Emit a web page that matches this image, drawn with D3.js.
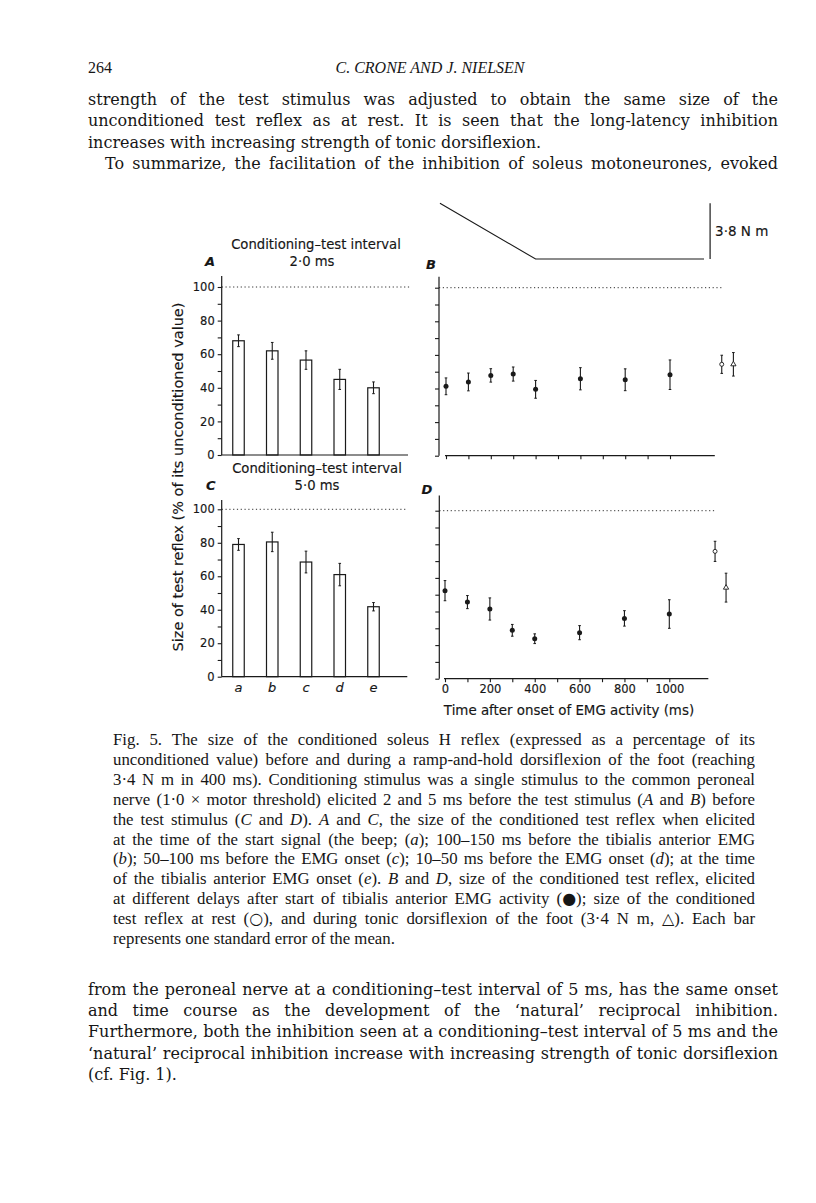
<!DOCTYPE html>
<html>
<head>
<meta charset="utf-8">
<script src="https://cdn.jsdelivr.net/npm/d3@7"></script>
<style>
  body { margin: 0; background: #fff; }
  svg { display: block; }
  .serif { font-family: "DejaVu Serif", serif; fill: #161616; }
  .times { font-family: "Liberation Serif", "Times New Roman", serif; fill: #161616; }
  .sans { font-family: "DejaVu Sans", sans-serif; fill: #161616; stroke: #161616; stroke-width: 0.15px; }
</style>
</head>
<body>
<svg id="page" width="816" height="1203"></svg>
<script>
// ---- data ----
var conditions = ['a', 'b', 'c', 'd', 'e'];
var barsA = [68, 62, 56.5, 45, 40];
var barsAerr = [3.5, 5, 5.5, 6, 3.5];
var barsC = [79, 80.5, 68.5, 61, 41.8];
var barsCerr = [3.5, 5.8, 6.5, 6.7, 2.5];

var delays = [0, 100, 200, 300, 400, 600, 800, 1000];
var pointsB = [41.3, 43.9, 47.8, 48.6, 39.5, 45.8, 45.2, 48.2];
var pointsBerr = [5, 5.3, 4, 4.2, 5.3, 6.6, 6.5, 8.8];
var pointsD = [52.4, 45.6, 41.5, 28.8, 23.8, 27.4, 35.9, 38.5];
var pointsDerr = [6, 3.9, 6.6, 3.5, 2.9, 4.2, 4.6, 8.5];

// rest (open circle) and tonic dorsiflexion (triangle), placed right of the time axis
var controlKinds = ['rest', 'tonic'];
var controlPosB = [1231, 1283];
var controlB = [54.4, 54.4];
var controlBerr = [5.4, 7];
var controlPosD = [1204, 1253];
var controlD = [75.8, 54.2];
var controlDerr = [6, 8.6];

// torque ramp drawn above panel B
var rampTime = [-27, 400, 1152];
var rampTorque = [0, 3.8, 3.8];
var scaleBarTime = 1179;
var scaleBarTorque = [0, 3.8];

var yTicks = d3.range(0, 101, 10);
var yLabels = [0, 20, 40, 60, 80, 100];
var timeTicks = d3.range(0, 1001, 100);
var timeLabels = [0, 200, 400, 600, 800, 1000];

var headerLines = ['264', 'C. CRONE AND J. NIELSEN'];
var topLines = [
  {t: 'strength of the test stimulus was adjusted to obtain the same size of the', j: true},
  {t: 'unconditioned test reflex as at rest. It is seen that the long-latency inhibition', j: true},
  {t: 'increases with increasing strength of tonic dorsiflexion.', j: false},
  {t: 'To summarize, the facilitation of the inhibition of soleus motoneurones, evoked', j: true, indent: 17}
];
// _x_ = italic, ^x^ = symbol glyph
var captionLines = [
  {t: 'Fig. 5. The size of the conditioned soleus H reflex (expressed as a percentage of its', j: true},
  {t: 'unconditioned value) before and during a ramp-and-hold dorsiflexion of the foot (reaching', j: true},
  {t: '3·4 N m in 400 ms). Conditioning stimulus was a single stimulus to the common peroneal', j: true},
  {t: 'nerve (1·0 × motor threshold) elicited 2 and 5 ms before the test stimulus (_A_ and _B_) before', j: true},
  {t: 'the test stimulus (_C_ and _D_). _A_ and _C_, the size of the conditioned test reflex when elicited', j: true},
  {t: 'at the time of the start signal (the beep; (_a_); 100–150 ms before the tibialis anterior EMG', j: true},
  {t: '(_b_); 50–100 ms before the EMG onset (_c_); 10–50 ms before the EMG onset (_d_); at the time', j: true},
  {t: 'of the tibialis anterior EMG onset (_e_). _B_ and _D_, size of the conditioned test reflex, elicited', j: true},
  {t: 'at different delays after start of tibialis anterior EMG activity (^●^); size of the conditioned', j: true},
  {t: 'test reflex at rest (^○^), and during tonic dorsiflexion of the foot (3·4 N m, ^△^). Each bar', j: true},
  {t: 'represents one standard error of the mean.', j: false}
];
var bottomLines = [
  {t: 'from the peroneal nerve at a conditioning–test interval of 5 ms, has the same onset', j: true},
  {t: 'and time course as the development of the ‘natural’ reciprocal inhibition.', j: true},
  {t: 'Furthermore, both the inhibition seen at a conditioning–test interval of 5 ms and the', j: true},
  {t: '‘natural’ reciprocal inhibition increase with increasing strength of tonic dorsiflexion', j: true},
  {t: '(cf. Fig. 1).', j: false}
];

var svg = d3.select('#page');
svg.append('rect').attr('width', 816).attr('height', 1203).attr('fill', '#fff');

var ink = '#1a1a1a';

// ---- running text ----
function writeLines(lines, o) {
  var g = svg.append('g').attr('class', o.cls).style('font-size', o.size + 'px');
  lines.forEach(function(line, i) {
    var indent = line.indent || 0;
    var t = g.append('text')
      .attr('x', o.x0 + indent)
      .attr('y', o.y0 + i * o.dy);
    line.t.split('_').forEach(function(part, k) {
      part.split('^').forEach(function(bit, m) {
        if (!bit) return;
        var ts = t.append('tspan').text(bit);
        if (k % 2) ts.style('font-style', 'italic');
        if (m % 2) ts.style('font-family', '"DejaVu Sans", sans-serif').style('font-size', '0.95em');
      });
    });
    if (line.j) {
      var w = t.node().getComputedTextLength();
      var spaces = (line.t.match(/ /g) || []).length;
      var extra = (o.x1 - o.x0 - indent - w) / spaces;
      t.style('word-spacing', extra + 'px');
    }
  });
}

svg.append('text').attr('class', 'times').attr('x', 88).attr('y', 73)
  .style('font-size', '16px').text(headerLines[0]);
svg.append('text').attr('class', 'times').attr('x', 430).attr('y', 73)
  .attr('text-anchor', 'middle').style('font-size', '16px').style('font-style', 'italic')
  .text(headerLines[1]);

writeLines(topLines, {cls: 'serif', x0: 88, x1: 778, y0: 105, dy: 21.3, size: 16});
writeLines(captionLines, {cls: 'times', x0: 113, x1: 755, y0: 745, dy: 19.9, size: 16.8});
writeLines(bottomLines, {cls: 'serif', x0: 88, x1: 778, y0: 995, dy: 21.2, size: 16});

// ---- chart panels ----
function yAxis(g, y, left, top, labels) {
  var ax = d3.axisLeft(y).tickValues(yTicks).tickSize(4).tickSizeOuter(0).tickPadding(3)
    .tickFormat(function(d) { return labels && yLabels.indexOf(d) >= 0 ? d : ''; });
  var a = g.append('g').attr('transform', 'translate(' + left + ',0)').call(ax);
  a.select('.domain').remove();
  a.selectAll('line').attr('stroke', ink).attr('stroke-width', 1.1);
  a.selectAll('text').attr('class', 'sans').style('font-size', '11.5px')
    .attr('font-family', null).attr('fill', ink);
  g.append('line').attr('x1', left).attr('x2', left)
    .attr('y1', y(0)).attr('y2', y(top))
    .attr('stroke', ink).attr('stroke-width', 1.2);
}

function dotted(g, y, left, right) {
  g.append('line').attr('x1', left).attr('x2', right)
    .attr('y1', y(100)).attr('y2', y(100))
    .attr('stroke', ink).attr('stroke-width', 0.9).attr('stroke-dasharray', '1.2,2.6');
}

function errBars(g, xs, vals, errs, y) {
  var sel = g.selectAll(null).data(vals).enter().append('g');
  sel.append('line')
    .attr('x1', function(d, i) { return xs[i]; })
    .attr('x2', function(d, i) { return xs[i]; })
    .attr('y1', function(d, i) { return y(d + errs[i]); })
    .attr('y2', function(d, i) { return y(d - errs[i]); })
    .attr('stroke', ink).attr('stroke-width', 1.1);
  [1, -1].forEach(function(s) {
    sel.append('line')
      .attr('x1', function(d, i) { return xs[i] - 1.3; })
      .attr('x2', function(d, i) { return xs[i] + 1.3; })
      .attr('y1', function(d, i) { return y(d + s * errs[i]); })
      .attr('y2', function(d, i) { return y(d + s * errs[i]); })
      .attr('stroke', ink).attr('stroke-width', 1);
  });
}

function barPanel(o) {
  var g = svg.append('g');
  var y = d3.scaleLinear().domain([0, 100]).range([o.y0, o.y100]);
  var x = d3.scalePoint().domain(conditions).range([238.5, 373.5]);
  var bw = 11.5;

  dotted(g, y, o.left, o.dotEnd);

  g.selectAll('rect.bar').data(o.vals).enter().append('rect')
    .attr('class', 'bar')
    .attr('x', function(d, i) { return x(conditions[i]) - bw / 2; })
    .attr('width', bw)
    .attr('y', function(d) { return y(d); })
    .attr('height', function(d) { return y(0) - y(d); })
    .attr('fill', '#fff').attr('stroke', ink).attr('stroke-width', 1.2);

  errBars(g, conditions.map(function(c) { return x(c); }), o.vals, o.errs, y);

  yAxis(g, y, o.left, o.top, true);
  g.append('line').attr('x1', o.left).attr('x2', o.right)
    .attr('y1', y(0)).attr('y2', y(0)).attr('stroke', ink).attr('stroke-width', 1.2);

  if (o.letters) {
    g.selectAll('text.cond').data(conditions).enter().append('text')
      .attr('class', 'sans cond')
      .attr('x', function(d) { return x(d); })
      .attr('y', y(0) + 15)
      .attr('text-anchor', 'middle')
      .style('font-size', '13px').style('font-style', 'italic')
      .text(function(d) { return d; });
  }
  return y;
}

function timePanel(o) {
  var g = svg.append('g');
  var y = d3.scaleLinear().domain([0, 100]).range([o.y0, o.y100]);
  var x = d3.scaleLinear().domain([0, 1000]).range([o.x0, o.x1000]);

  dotted(g, y, o.left, o.dotEnd);
  yAxis(g, y, o.left, o.top, false);

  var ax = d3.axisBottom(x).tickValues(timeTicks).tickSize(3.5).tickSizeOuter(0).tickPadding(2.5)
    .tickFormat(function(d) { return o.labels && timeLabels.indexOf(d) >= 0 ? d : ''; });
  var a = g.append('g').attr('transform', 'translate(0,' + o.y0 + ')').call(ax);
  a.select('.domain').remove();
  a.selectAll('line').attr('stroke', ink).attr('stroke-width', 1.1);
  a.selectAll('text').attr('class', 'sans').attr('font-family', null)
    .style('font-size', '11.5px').attr('fill', ink);
  g.append('line').attr('x1', x(0) - 1).attr('x2', x(o.endTime))
    .attr('y1', y(0)).attr('y2', y(0)).attr('stroke', ink).attr('stroke-width', 1.2);

  errBars(g, delays.map(x), o.vals, o.errs, y);
  g.selectAll('circle.pt').data(o.vals).enter().append('circle')
    .attr('class', 'pt')
    .attr('cx', function(d, i) { return x(delays[i]); })
    .attr('cy', function(d) { return y(d); })
    .attr('r', 2.5).attr('fill', ink);

  var cx = o.ctrlPos.map(x);
  errBars(g, cx, o.ctrl, o.ctrlErr, y);
  controlKinds.forEach(function(k, i) {
    if (k === 'rest') {
      g.append('circle').attr('cx', cx[i]).attr('cy', y(o.ctrl[i])).attr('r', 2)
        .attr('fill', '#fff').attr('stroke', ink).attr('stroke-width', 0.9);
    } else {
      g.append('path').attr('d', d3.symbol().type(d3.symbolTriangle).size(12)())
        .attr('transform', 'translate(' + cx[i] + ',' + y(o.ctrl[i]) + ')')
        .attr('fill', '#fff').attr('stroke', ink).attr('stroke-width', 0.9);
    }
  });
  return x;
}

var yA = barPanel({vals: barsA, errs: barsAerr, left: 221.7, y0: 455, y100: 287,
  right: 408, dotEnd: 410, top: 106.5, letters: false});
var yC = barPanel({vals: barsC, errs: barsCerr, left: 221.7, y0: 676.7, y100: 509.3,
  right: 407.3, dotEnd: 406, top: 105.5, letters: true});
var xB = timePanel({vals: pointsB, errs: pointsBerr, ctrl: controlB, ctrlErr: controlBerr,
  ctrlPos: controlPosB, left: 439, y0: 455.7, y100: 287.7, x0: 446, x1000: 670,
  endTime: 1200, dotEnd: 721.7, top: 106.5, labels: false});
var xD = timePanel({vals: pointsD, errs: pointsDerr, ctrl: controlD, ctrlErr: controlDerr,
  ctrlPos: controlPosD, left: 439.3, y0: 678.7, y100: 510.7, x0: 445, x1000: 669.3,
  endTime: 1174, dotEnd: 715, top: 109, labels: true});

// torque ramp and calibration bar
var torque = d3.scaleLinear().domain([0, 3.8]).range([203.3, 259]);
var ramp = d3.line()
  .x(function(d, i) { return xB(rampTime[i]); })
  .y(function(d) { return torque(d); });
svg.append('path').attr('d', ramp(rampTorque))
  .attr('fill', 'none').attr('stroke', ink).attr('stroke-width', 1.1);
svg.append('line').attr('x1', xB(scaleBarTime)).attr('x2', xB(scaleBarTime))
  .attr('y1', torque(scaleBarTorque[0])).attr('y2', torque(scaleBarTorque[1]))
  .attr('stroke', ink).attr('stroke-width', 1.2);
svg.append('text').attr('class', 'sans').attr('x', xB(scaleBarTime) + 5).attr('y', 236)
  .style('font-size', '13.5px').text('3·8 N m');

// panel titles and letters
var labels = svg.append('g').attr('class', 'sans').style('font-size', '13.2px');
labels.append('text').attr('x', 316).attr('y', 248.5).attr('text-anchor', 'middle')
  .text('Conditioning–test interval');
labels.append('text').attr('x', 312).attr('y', 265.5).attr('text-anchor', 'middle').text('2·0 ms');
labels.append('text').attr('x', 317).attr('y', 473).attr('text-anchor', 'middle')
  .text('Conditioning–test interval');
labels.append('text').attr('x', 317).attr('y', 489.6).attr('text-anchor', 'middle').text('5·0 ms');
[['A', 210, 266], ['B', 431, 269], ['C', 210.7, 490], ['D', 427, 494]].forEach(function(p) {
  labels.append('text').attr('x', p[1]).attr('y', p[2]).attr('text-anchor', 'middle')
    .style('font-style', 'italic').style('font-weight', 'bold').style('font-size', '13px')
    .text(p[0]);
});
labels.append('text').attr('x', 569).attr('y', 715).attr('text-anchor', 'middle')
  .style('font-size', '13.4px')
  .text('Time after onset of EMG activity (ms)');
labels.append('text')
  .attr('transform', 'translate(182.5,477) rotate(-90)')
  .attr('text-anchor', 'middle')
  .style('font-size', '14.5px')
  .text('Size of test reflex (% of its unconditioned value)');
</script>
</body>
</html>
